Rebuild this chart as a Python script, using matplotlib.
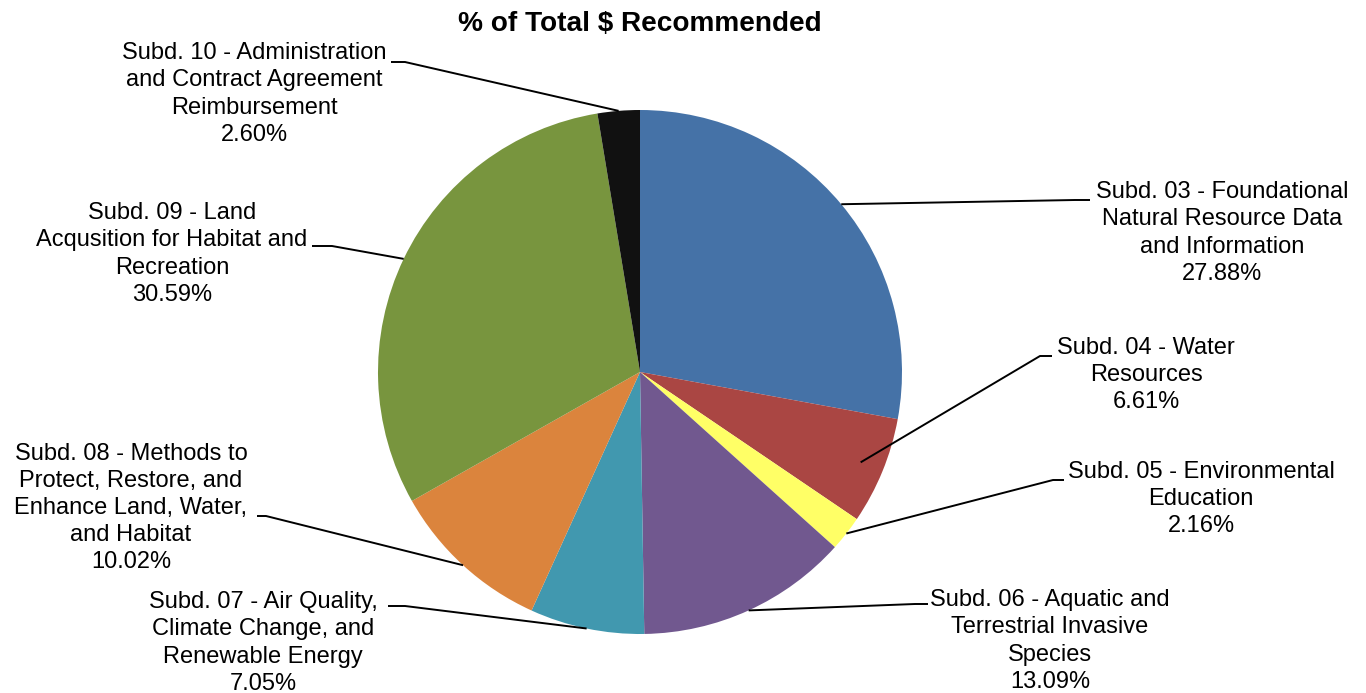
import numpy as np
import matplotlib.pyplot as plt

plt.rcParams['font.family'] = ['Liberation Sans', 'DejaVu Sans']

# Data
labels = [
    "Subd. 03 - Foundational\nNatural Resource Data\nand Information",
    "Subd. 04 - Water\nResources",
    "Subd. 05 - Environmental\nEducation",
    "Subd. 06 - Aquatic and\nTerrestrial Invasive\nSpecies",
    "Subd. 07 - Air Quality,\nClimate Change, and\nRenewable Energy",
    "Subd. 08 - Methods to\nProtect, Restore, and\nEnhance Land, Water,\nand Habitat",
    "Subd. 09 - Land\nAcqusition for Habitat and\nRecreation",
    "Subd. 10 - Administration\nand Contract Agreement\nReimbursement",
]
percents = [27.88, 6.61, 2.16, 13.09, 7.05, 10.02, 30.59, 2.60]
colors = ['#4572A7', '#AA4643', '#FFFF66', '#71588F',
          '#4198AF', '#DB843D', '#78953E', '#111111']

# Layout (pixels from top-left of the 1366x693 canvas)
W, H = 1366, 693
center = (640, 372)
radius = 262
# label block centre, leader elbow, leader end, start radius fraction
label_pos = [(1222, 233), (1146, 375), (1201, 499), (1050, 641),
             (263, 643), (131, 508), (172, 254), (254, 94)]
elbows = [(1075, 200), (1040, 356), (1053, 480), (915, 604),
          (405, 606), (266, 516), (332, 246), (405, 62)]
ends = [(1090, 200), (1052, 356), (1064, 480), (928, 604),
        (388, 606), (257, 516), (312, 246), (391, 62)]
start_frac = [1.0, 0.91, 1.0, 1.0, 1.0, 1.0, 1.0, 1.0]

fig = plt.figure(figsize=(W / 100, H / 100), dpi=100)
ax = fig.add_axes([0, 0, 1, 1])

wedges, _ = ax.pie(percents, colors=colors, startangle=90, counterclock=False,
                   center=(center[0], H - center[1]), radius=radius,
                   wedgeprops=dict(edgecolor='none', linewidth=0),
                   frame=True)
ax.set_xlim(0, W)
ax.set_ylim(0, H)
ax.set_aspect('equal')
ax.axis('off')

for w, lab, pct, lp, el, en, fr in zip(wedges, labels, percents, label_pos,
                                        elbows, ends, start_frac):
    mid = np.deg2rad((w.theta1 + w.theta2) / 2)
    sx = center[0] + fr * radius * np.cos(mid)
    sy = (H - center[1]) + fr * radius * np.sin(mid)
    ax.plot([sx, el[0], en[0]], [sy, H - el[1], H - en[1]],
            color='black', lw=1.4, solid_capstyle='butt')
    ax.text(lp[0], H - lp[1], f"{lab}\n{pct:.2f}%", ha='center', va='center',
            multialignment='center', fontsize=17, linespacing=1.3,
            color='black')

ax.text(640, H - 24, "% of Total $ Recommended", ha='center', va='center',
        fontsize=20.2, fontweight='bold')

fig.savefig('out.png', dpi=100)
